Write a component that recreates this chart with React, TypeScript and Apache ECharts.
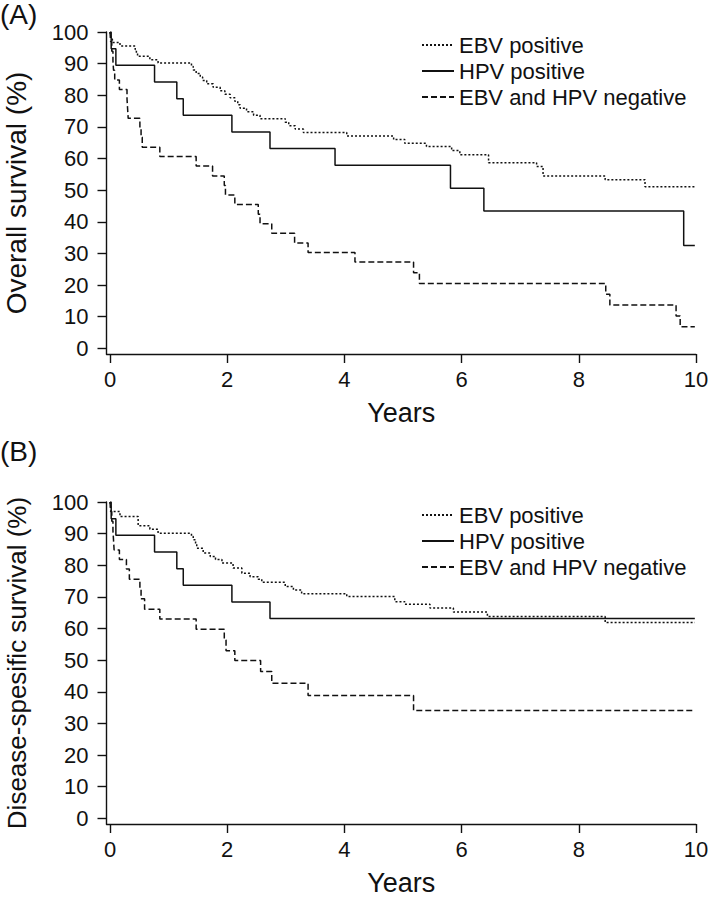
import React, { useEffect, useRef } from "react";
import * as echarts from "echarts";

// ---- data ----
const xTicks = [0, 2, 4, 6, 8, 10];
const yTicks = [0, 10, 20, 30, 40, 50, 60, 70, 80, 90, 100];
const seriesNames = ["EBV positive", "HPV positive", "EBV and HPV negative"];

// (A) Overall survival
const ebvOS = [
  [0, 100], [0.01, 98.9], [0.02, 97.8], [0.04, 96.7], [0.17, 95.6], [0.43, 94.5], [0.45, 93.4],
  [0.47, 92.3], [0.68, 91.2], [0.82, 90.2], [1.39, 89.1], [1.42, 88.0], [1.47, 86.9], [1.54, 85.8],
  [1.58, 84.7], [1.65, 83.6], [1.76, 82.5], [1.88, 81.4], [1.96, 80.3], [2.05, 79.2], [2.13, 78.1],
  [2.18, 77.0], [2.22, 75.9], [2.33, 74.8], [2.45, 73.7], [2.56, 72.6], [2.99, 71.5], [3.05, 70.4],
  [3.16, 69.3], [3.3, 68.2], [4.04, 67.1], [4.84, 66.0], [5.03, 64.8], [5.4, 63.8], [5.83, 62.5],
  [5.97, 61.2], [6.46, 58.7], [7.28, 57.5], [7.39, 54.5], [8.45, 53.3], [9.13, 51.1], [9.98, 51.1],
];
const hpvOS = [
  [0, 100], [0.02, 94.7], [0.1, 89.5], [0.76, 84.2], [1.14, 78.9], [1.25, 73.7], [2.08, 68.4],
  [2.73, 63.2], [3.84, 57.9], [5.81, 50.6], [6.38, 43.4], [9.79, 32.5], [9.98, 32.5],
];
const negOS = [
  [0, 100], [0.01, 97.0], [0.03, 93.9], [0.05, 90.9], [0.06, 87.9], [0.08, 84.8], [0.16, 81.8],
  [0.29, 78.8], [0.3, 75.8], [0.31, 72.7], [0.51, 69.7], [0.53, 66.7], [0.55, 63.6], [0.85, 60.6],
  [1.47, 57.6], [1.75, 54.5], [1.95, 51.5], [1.97, 48.5], [2.13, 45.5], [2.53, 42.4], [2.56, 39.4],
  [2.76, 36.4], [3.15, 33.3], [3.38, 30.3], [4.18, 27.3], [5.18, 23.9], [5.28, 20.5], [8.46, 17.1],
  [8.53, 13.7], [9.66, 10.2], [9.73, 6.8], [9.98, 6.8],
];

// (B) Disease-specific survival
const ebvDSS = [
  [0, 100], [0.01, 98.9], [0.02, 97.0], [0.17, 95.4], [0.48, 92.5], [0.68, 91.4], [0.82, 90.1],
  [1.39, 89.1], [1.42, 88.1], [1.46, 86.8], [1.48, 85.4], [1.59, 83.9], [1.71, 82.8], [1.8, 81.8],
  [1.91, 80.7], [2.1, 79.1], [2.25, 77.5], [2.39, 76.4], [2.53, 75.6], [2.59, 74.6], [2.99, 73.3],
  [3.13, 72.2], [3.27, 71.0], [4.04, 70.1], [4.86, 68.5], [5.03, 67.7], [5.46, 66.5], [5.86, 65.2],
  [6.44, 63.8], [8.45, 61.9], [9.98, 61.9],
];
const hpvDSS = [
  [0, 100], [0.02, 94.7], [0.1, 89.5], [0.76, 84.2], [1.14, 78.9], [1.25, 73.7], [2.08, 68.4],
  [2.73, 63.2], [9.98, 63.2],
];
const negDSS = [
  [0, 100], [0.01, 97.0], [0.03, 93.9], [0.05, 90.9], [0.06, 87.9], [0.07, 84.8], [0.16, 81.8],
  [0.28, 78.8], [0.33, 75.6], [0.51, 72.5], [0.53, 69.4], [0.59, 66.1], [0.85, 63.0], [1.47, 59.8],
  [1.95, 56.4], [1.98, 53.0], [2.13, 49.9], [2.57, 46.4], [2.76, 42.7], [3.38, 38.8], [5.18, 34.1],
  [9.98, 34.1],
];

const panelLabels = ["(A)", "(B)"];
const yNames = ["Overall survival (%)", "Disease-spesific survival (%)"];
const xName = "Years";

const FONT = "'Liberation Sans', Arial, Helvetica, sans-serif";
const INK = "#111";

export default function App() {
  const ref = useRef<HTMLDivElement>(null);
  useEffect(() => {
    if (!ref.current) return;
    const chart = echarts.init(ref.current, undefined, { renderer: "svg" });
    const tops = [32, 502];
    const styles: any[] = [
      { type: [2, 2], width: 1.5, color: INK },
      { type: "solid", width: 1.5, color: INK },
      { type: [6, 3], width: 1.5, color: INK },
    ];
    const panels = [
      [ebvOS, hpvOS, negOS],
      [ebvDSS, hpvDSS, negDSS],
    ];
    const axisLineStyle = { color: INK, width: 1.4 };
    const option: any = {
      animation: false,
      grid: tops.map((t) => ({
        left: 106.5,
        top: t,
        width: 589.5,
        height: 322,
        containLabel: false,
        outerBoundsMode: "none",
      })),
      xAxis: tops.map((_, i) => ({
        type: "value",
        gridIndex: i,
        min: -0.06,
        max: 10,
        axisLine: { show: true, onZero: false, lineStyle: axisLineStyle },
        axisTick: { show: true, length: 9, customValues: xTicks, lineStyle: axisLineStyle },
        axisLabel: { customValues: xTicks, fontSize: 22, margin: 14, color: INK, fontFamily: FONT },
        splitLine: { show: false },
        name: xName,
        nameLocation: "middle",
        nameGap: 45,
        nameTextStyle: { fontSize: 27, color: INK, fontFamily: FONT },
      })),
      yAxis: tops.map((_, i) => ({
        type: "value",
        gridIndex: i,
        min: -1.8,
        max: 100,
        axisLine: { show: true, onZero: false, lineStyle: axisLineStyle },
        axisTick: { show: true, length: 9, customValues: yTicks, lineStyle: axisLineStyle },
        axisLabel: { customValues: yTicks, fontSize: 22, margin: 18, color: INK, fontFamily: FONT },
        splitLine: { show: false },
        name: yNames[i],
        nameLocation: "middle",
        nameGap: i === 0 ? 76 : 77,
        nameTextStyle: { fontSize: i === 0 ? 28 : 26, color: INK, fontFamily: FONT },
      })),
      legend: tops.map((t) => ({
        orient: "vertical",
        left: 421,
        top: t + 2,
        padding: 0,
        itemWidth: 32,
        itemHeight: 12,
        itemGap: 4,
        data: seriesNames,
        selectedMode: false,
        itemStyle: { opacity: 0, borderWidth: 0 },
        textStyle: { fontSize: 22, lineHeight: 22, color: INK, fontFamily: FONT },
      })),
      graphic: panelLabels.map((txt, i) => ({
        type: "text",
        left: 0,
        top: i === 0 ? 0 : 437,
        style: { text: txt, fontSize: 28, fill: INK, fontFamily: FONT },
      })),
      series: panels.flatMap((arrs, p) =>
        arrs.map((d, k) => ({
          type: "line",
          name: seriesNames[k],
          xAxisIndex: p,
          yAxisIndex: p,
          step: "end",
          symbol: "none",
          showSymbol: false,
          lineStyle: styles[k],
          itemStyle: { color: INK },
          data: d,
        }))
      ),
    };
    chart.setOption(option);
    return () => chart.dispose();
  }, []);
  return <div ref={ref} style={{ position: "absolute", left: 0, top: 0, width: 709, height: 900 }} />;
}
